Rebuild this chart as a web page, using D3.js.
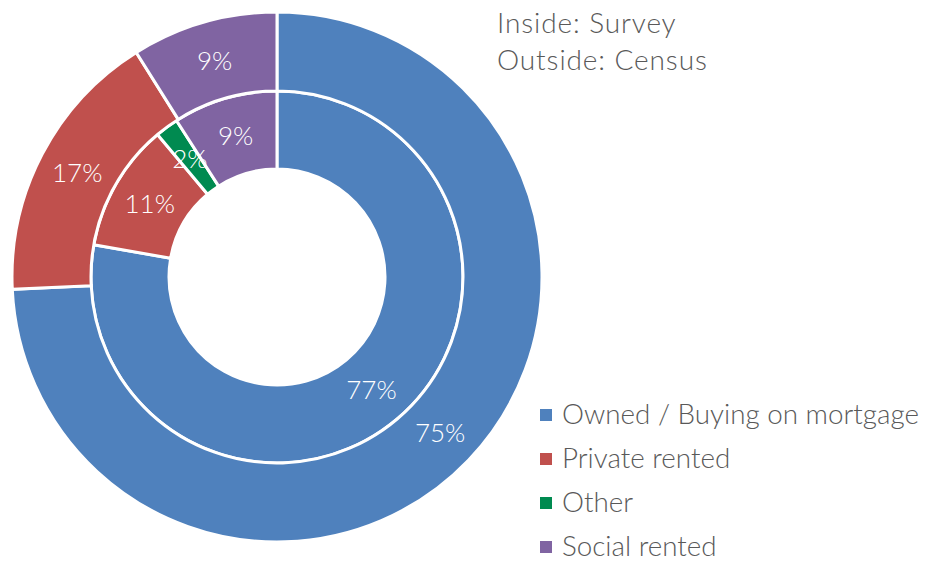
<!DOCTYPE html>
<html>
<head>
<meta charset="utf-8">
<script src="https://cdn.jsdelivr.net/npm/d3@7"></script>
<style>
  html, body { margin: 0; padding: 0; background: #fff; }
  svg text { font-family: Lato, "Open Sans", sans-serif; font-weight: 300; }
</style>
</head>
<body>
<svg id="chart" width="931" height="561"></svg>
<script>
// Housing tenure: survey (inner ring) vs census (outer ring), percentages
const categories = ["Owned / Buying on mortgage", "Private rented", "Other", "Social rented"];
const surveyValues = [77, 11, 2, 9];
const censusValues = [75, 17, 0, 9];
const colors = ["#4F81BD", "#C0504D", "#008A50", "#8064A2"];
const titleLines = ["Inside: Survey", "Outside: Census"];

const svg = d3.select("#chart");
const cx = 277, cy = 277;
const g = svg.append("g").attr("transform", `translate(${cx},${cy})`);

const color = d3.scaleOrdinal().domain(categories).range(colors);
const pie = d3.pie().sort(null).value(d => d.value);

const rings = [
  { data: surveyValues, inner: 108, outer: 186 },
  { data: censusValues, inner: 186, outer: 265 }
];

rings.forEach(ring => {
  const arcs = pie(categories.map((c, i) => ({ cat: c, value: ring.data[i] })));
  const arc = d3.arc().innerRadius(ring.inner).outerRadius(ring.outer);
  const ringG = g.append("g");
  ringG.selectAll("path")
    .data(arcs.filter(a => a.data.value > 0))
    .join("path")
    .attr("d", arc)
    .attr("fill", d => color(d.data.cat))
    .attr("stroke", "#fff")
    .attr("stroke-width", 3)
    .attr("stroke-linejoin", "miter");
  ringG.selectAll("text")
    .data(arcs.filter(a => a.data.value > 0))
    .join("text")
    .attr("transform", d => `translate(${arc.centroid(d)})`)
    .attr("text-anchor", "middle")
    .attr("dy", "0.36em")
    .attr("fill", "#fff")
    .attr("font-size", 26)
    .text(d => d.data.value + "%");
});

// Ring description
svg.append("g").selectAll("text")
  .data(titleLines)
  .join("text")
  .attr("x", 497)
  .attr("y", (d, i) => 33 + i * 37)
  .attr("fill", "#595959")
  .attr("font-size", 28)
  .attr("letter-spacing", 0.9)
  .text(d => d);

// Legend
const legend = svg.append("g").attr("transform", "translate(540,414)");
const rows = legend.selectAll("g").data(categories).join("g")
  .attr("transform", (d, i) => `translate(0,${i * 44})`);
rows.append("rect")
  .attr("x", 0).attr("y", -5).attr("width", 12).attr("height", 12)
  .attr("fill", d => color(d));
rows.append("text")
  .attr("x", 22).attr("y", 0).attr("dy", "0.35em")
  .attr("fill", "#595959")
  .attr("font-size", 27.8)
  .text(d => d);
</script>
</body>
</html>
